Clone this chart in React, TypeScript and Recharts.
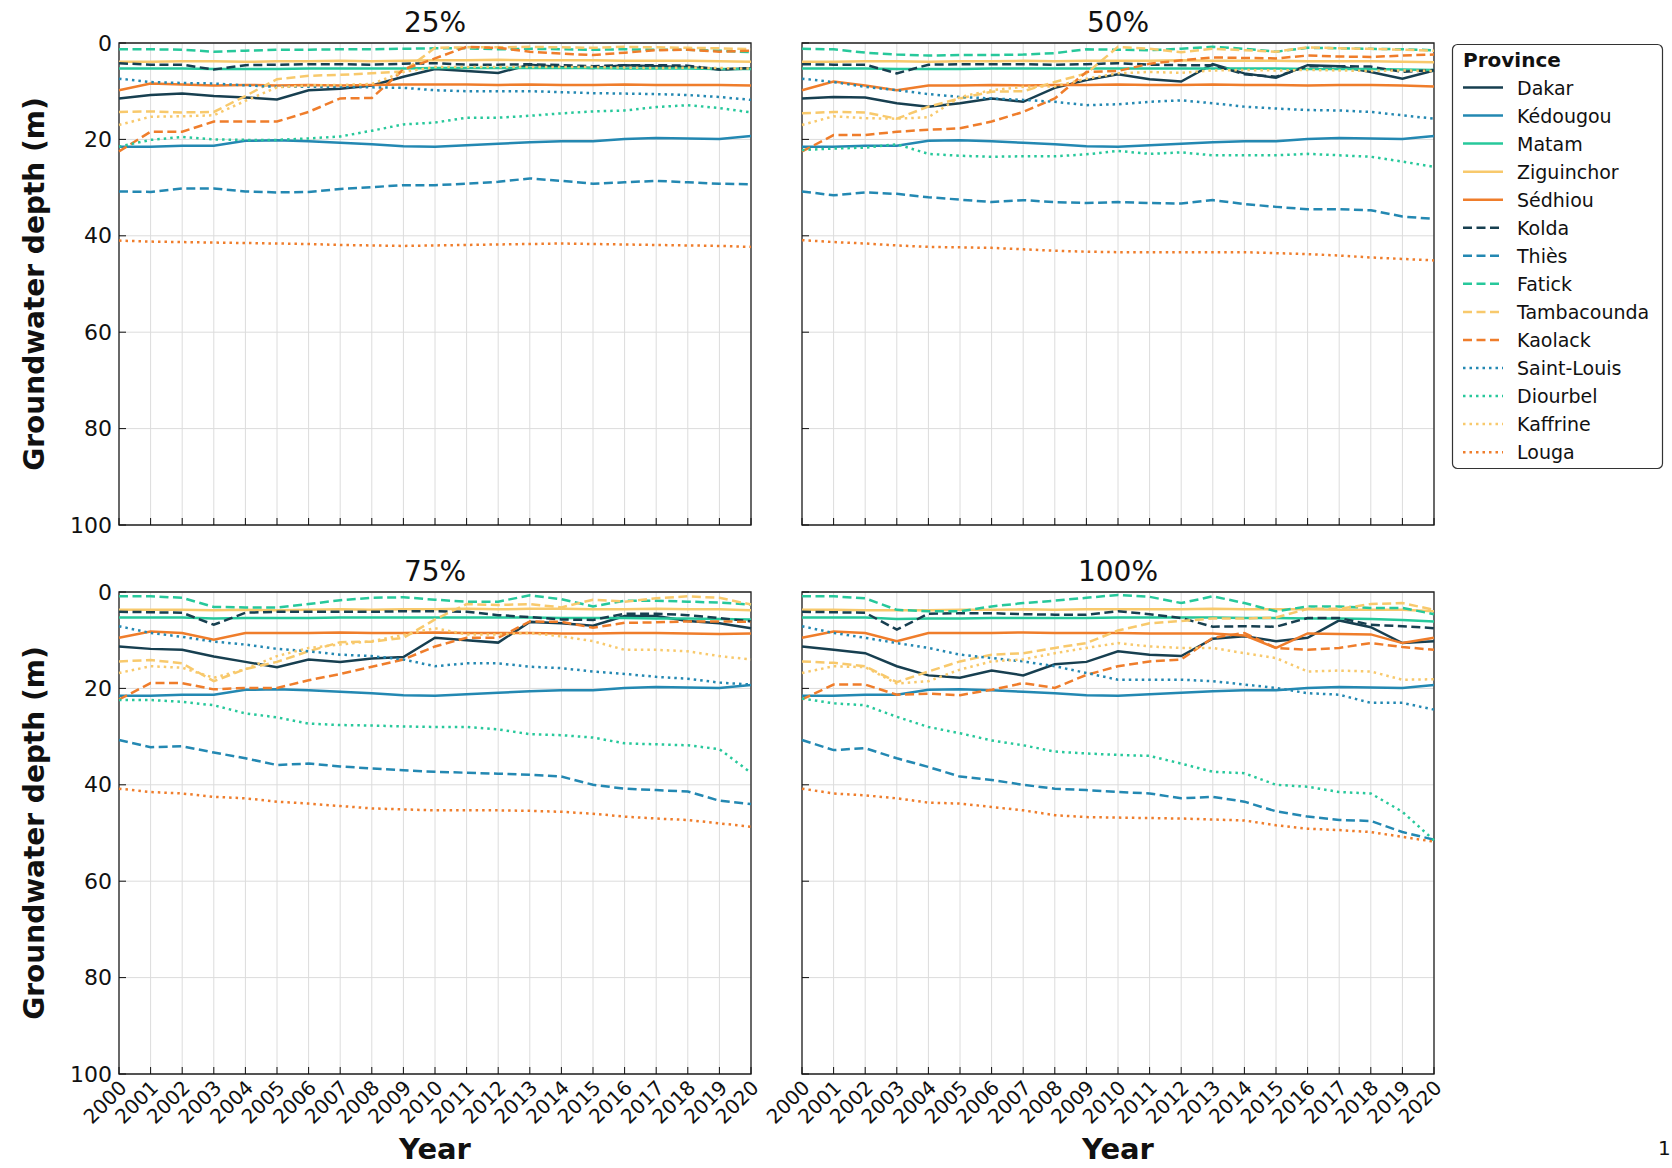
import { CartesianGrid, Line, LineChart, ReferenceArea, XAxis, YAxis } from "recharts";

const years = [
  2000, 2001, 2002, 2003, 2004, 2005, 2006, 2007, 2008, 2009, 2010,
  2011, 2012, 2013, 2014, 2015, 2016, 2017, 2018, 2019, 2020,
];
const depthTicks = [0, 20, 40, 60, 80, 100];
const panelTitles = ["25%", "50%", "75%", "100%"];

const provinces = [
  "Dakar", "Kédougou", "Matam", "Ziguinchor", "Sédhiou",
  "Kolda", "Thiès", "Fatick", "Tambacounda", "Kaolack",
  "Saint-Louis", "Diourbel", "Kaffrine", "Louga",
];

// groundwater depth (m), one row per province in the order above
const depth25 = [
  [11.5, 10.8, 10.5, 11, 11.3, 11.7, 9.8, 9.5, 8.8, 7, 5.4, 5.8, 6.2, 4.5, 5, 5.2, 4.6, 4.8, 5, 5.5, 5.3],
  [21.5, 21.5, 21.3, 21.3, 20.3, 20.2, 20.4, 20.7, 21, 21.4, 21.5, 21.2, 20.9, 20.6, 20.4, 20.4, 19.9, 19.7, 19.8, 19.9, 19.3],
  [5.3, 5.3, 5.3, 5.4, 5.4, 5.4, 5.3, 5.3, 5.3, 5.3, 5.2, 5.2, 5.2, 5.2, 5.2, 5.2, 5.3, 5.3, 5.3, 5.4, 5.4],
  [3.9, 3.9, 3.8, 3.8, 3.9, 3.8, 3.8, 3.7, 3.8, 3.7, 3.6, 3.6, 3.5, 3.6, 3.6, 3.6, 3.7, 3.7, 3.7, 3.8, 3.9],
  [9.8, 8.4, 8.6, 8.8, 8.7, 8.8, 8.7, 8.8, 8.7, 8.6, 8.6, 8.6, 8.7, 8.6, 8.7, 8.7, 8.6, 8.7, 8.7, 8.7, 8.8],
  [4.2, 4.5, 4.5, 5.5, 4.6, 4.5, 4.4, 4.4, 4.5, 4.3, 4.2, 4.5, 4.5, 4.4, 4.6, 4.8, 4.6, 4.6, 4.7, 5.5, 5.2],
  [30.8, 30.9, 30.2, 30.2, 30.8, 31, 30.9, 30.3, 29.9, 29.5, 29.5, 29.2, 28.8, 28.1, 28.6, 29.2, 28.9, 28.6, 28.9, 29.2, 29.3],
  [1.3, 1.3, 1.4, 1.8, 1.6, 1.4, 1.4, 1.3, 1.3, 1.2, 1.1, 1.1, 1.3, 1.2, 1.3, 1.4, 1.3, 1.4, 1.4, 1.6, 1.9],
  [14.3, 14.2, 14.4, 14.3, 11, 7.5, 6.8, 6.6, 6.3, 5.9, 1, 0.9, 0.9, 0.8, 0.9, 1, 0.8, 0.9, 1, 1.1, 1.3],
  [22.5, 18.4, 18.4, 16.3, 16.3, 16.3, 14.3, 11.5, 11.4, 5.5, 3.2, 0.8, 1, 1.8, 2.2, 2.5, 2, 1.5, 1.4, 1.8, 1.6],
  [7.4, 8.1, 8.3, 8.4, 8.8, 9.1, 9.1, 9.1, 9.2, 9.3, 9.8, 10, 10, 10, 10.2, 10.4, 10.5, 10.6, 10.8, 11.2, 11.8],
  [21.5, 20.1, 19.5, 20, 20.1, 20.1, 19.8, 19.4, 18.2, 16.9, 16.5, 15.5, 15.5, 15.1, 14.6, 14.2, 14, 13.3, 12.9, 13.5, 14.4],
  [17, 15.3, 15.2, 15, 12, 9.2, 8.8, 8.7, 8.5, 6, 5, 5, 5, 5, 5, 5, 5.1, 5.2, 5.1, 5.2, 5.3],
  [41, 41.2, 41.3, 41.4, 41.5, 41.6, 41.7, 41.9, 42, 42.1, 42, 41.9, 41.8, 41.7, 41.6, 41.7, 41.8, 41.9, 42, 42.1, 42.3],
];

const depth50 = [
  [11.5, 11.2, 11.3, 12.5, 13.2, 12.5, 11.5, 12.2, 9.3, 7.7, 6.5, 7.5, 8, 4.4, 6.3, 7.2, 4.6, 4.8, 6, 7.4, 5.7],
  [21.5, 21.5, 21.3, 21.3, 20.3, 20.2, 20.4, 20.7, 21, 21.4, 21.5, 21.2, 20.9, 20.6, 20.4, 20.4, 19.9, 19.7, 19.8, 19.9, 19.3],
  [5.3, 5.3, 5.3, 5.4, 5.4, 5.4, 5.3, 5.3, 5.3, 5.3, 5.3, 5.3, 5.3, 5.3, 5.3, 5.3, 5.4, 5.4, 5.4, 5.5, 5.6],
  [3.9, 3.9, 3.8, 3.8, 3.9, 3.8, 3.8, 3.7, 3.8, 3.7, 3.7, 3.7, 3.6, 3.7, 3.7, 3.7, 3.8, 3.8, 3.8, 3.9, 4],
  [9.8, 8, 8.8, 9.8, 8.8, 8.8, 8.7, 8.8, 8.7, 8.7, 8.6, 8.7, 8.7, 8.6, 8.7, 8.7, 8.8, 8.7, 8.7, 8.8, 9],
  [4.4, 4.5, 4.5, 6.3, 4.5, 4.4, 4.4, 4.4, 4.5, 4.4, 4.2, 4.5, 4.6, 4.6, 6.5, 7, 4.8, 4.8, 4.9, 6, 5.6],
  [30.8, 31.6, 31, 31.3, 32, 32.5, 33, 32.6, 33, 33.2, 33, 33.2, 33.3, 32.6, 33.4, 34, 34.5, 34.5, 34.7, 36, 36.5],
  [1.2, 1.3, 2, 2.4, 2.6, 2.5, 2.5, 2.4, 2.1, 1.3, 1.4, 1.5, 1.2, 0.8, 1.2, 1.8, 1, 1.1, 1.2, 1.3, 1.5],
  [14.6, 14.3, 14.4, 15.7, 13.2, 11.5, 10.1, 10, 8.1, 6.3, 0.8, 1.2, 1.9, 1.2, 1.5, 1.8, 0.9, 1.1, 1.2, 1.4, 1.6],
  [22.5, 19.1, 19.1, 18.4, 18, 17.7, 16.3, 14.3, 11.5, 6, 5.8, 4.3, 3.6, 3, 3.1, 3.2, 2.6, 2.8, 2.9, 2.6, 2.4],
  [7.4, 8.1, 9.1, 9.8, 10.6, 11.2, 11.5, 11.8, 12.2, 12.9, 12.7, 12.2, 11.9, 12.5, 13.2, 13.6, 13.9, 14, 14.3, 15, 15.7],
  [22.2, 21.9, 21.7, 21, 23, 23.4, 23.6, 23.5, 23.5, 23.1, 22.4, 23, 22.7, 23.3, 23.3, 23.3, 23, 23.3, 23.6, 24.6, 25.7],
  [17, 15.2, 15.6, 15.7, 15.4, 11.2, 9.8, 9.1, 9, 7.4, 6.3, 6, 6.2, 5.7, 5.6, 5.7, 5.6, 5.7, 5.8, 5.7, 5.8],
  [40.9, 41.3, 41.6, 42, 42.3, 42.4, 42.5, 42.8, 43.1, 43.3, 43.4, 43.4, 43.4, 43.4, 43.4, 43.6, 43.8, 44.1, 44.5, 44.8, 45.1],
];

const depth75 = [
  [11.3, 11.8, 12, 13.4, 14.5, 15.6, 14, 14.5, 13.8, 13.5, 9.5, 10, 10.5, 6.2, 6.5, 7, 5, 5, 6, 6.5, 7.5],
  [21.5, 21.5, 21.3, 21.3, 20.3, 20.2, 20.4, 20.7, 21, 21.4, 21.5, 21.2, 20.9, 20.6, 20.4, 20.4, 19.9, 19.7, 19.8, 19.9, 19.3],
  [5.3, 5.3, 5.3, 5.5, 5.4, 5.4, 5.4, 5.3, 5.3, 5.3, 5.3, 5.3, 5.3, 5.3, 5.4, 5.4, 5.4, 5.5, 5.5, 5.6, 5.7],
  [3.7, 3.7, 3.7, 3.8, 3.7, 3.8, 3.7, 3.6, 3.7, 3.6, 3.6, 3.5, 3.6, 3.5, 3.5, 3.6, 3.6, 3.5, 3.6, 3.6, 3.8],
  [9.5, 8.2, 8.5, 9.9, 8.5, 8.5, 8.5, 8.4, 8.5, 8.5, 8.4, 8.5, 8.5, 8.5, 8.6, 8.6, 8.5, 8.5, 8.6, 8.7, 8.6],
  [4.1, 4.2, 4.3, 6.8, 4.3, 4.1, 4.1, 4.1, 4.1, 4, 4, 4.1, 4.8, 5.2, 5.7, 5.8, 4.5, 4.5, 4.8, 5.4, 6.1],
  [30.7, 32.2, 32, 33.3, 34.5, 35.9, 35.6, 36.2, 36.6, 37, 37.3, 37.5, 37.7, 37.9, 38.3, 40, 40.8, 41.1, 41.4, 43.3, 44],
  [0.9, 0.9, 1.2, 3.1, 3.2, 3.2, 2.5, 1.7, 1.2, 1.1, 1.6, 2, 2, 0.7, 1.5, 3, 1.8, 1.8, 2, 2.2, 2.6],
  [14.4, 14.1, 14.8, 18.5, 16, 14.5, 12.3, 10.4, 10.3, 9.5, 5.7, 2.5, 2.7, 2.5, 3.2, 1.6, 2, 1.3, 0.9, 1.2, 2.6],
  [22.3, 18.9, 18.9, 20.2, 19.9, 19.9, 18.3, 17, 15.5, 14, 11.3, 9.5, 9.5, 6.1, 6.2, 7.4, 6.4, 6.3, 6.1, 6.1, 6.2],
  [7.1, 8.5, 9.3, 10.3, 10.9, 11.8, 12.3, 13, 13.3, 14, 15.4, 14.8, 14.8, 15.5, 15.8, 16.5, 17, 17.6, 18, 18.8, 19.2],
  [22.4, 22.4, 22.8, 23.5, 25.2, 26, 27.3, 27.6, 27.7, 27.9, 28, 28, 28.5, 29.5, 29.7, 30.2, 31.4, 31.6, 31.8, 32.6, 37.5],
  [16.8, 15.4, 15.7, 17.8, 16, 13.3, 11.6, 10.9, 10.2, 8.9, 7.5, 8.8, 8.8, 8.5, 9.2, 10.2, 12, 12, 12.3, 13.3, 14],
  [40.8, 41.5, 41.8, 42.5, 42.8, 43.5, 43.9, 44.4, 44.9, 45.1, 45.3, 45.3, 45.3, 45.4, 45.6, 46, 46.6, 47, 47.3, 48, 48.7],
];

const depth100 = [
  [11.3, 12, 12.7, 15.4, 17.3, 17.8, 16.3, 17.3, 15, 14.5, 12.3, 13, 13.3, 9.7, 9.2, 10.2, 9.5, 5.9, 7.3, 10.6, 10.2],
  [21.5, 21.5, 21.3, 21.3, 20.3, 20.2, 20.4, 20.7, 21, 21.4, 21.5, 21.2, 20.9, 20.6, 20.4, 20.4, 19.9, 19.7, 19.8, 19.9, 19.3],
  [5.3, 5.3, 5.3, 5.6, 5.5, 5.5, 5.4, 5.4, 5.4, 5.4, 5.3, 5.3, 5.3, 5.3, 5.4, 5.4, 5.5, 5.5, 5.6, 5.8, 6.1],
  [3.7, 3.7, 3.8, 3.8, 3.8, 3.7, 3.7, 3.6, 3.7, 3.6, 3.6, 3.6, 3.6, 3.5, 3.6, 3.6, 3.6, 3.7, 3.7, 3.7, 4],
  [9.5, 8.2, 8.5, 10.2, 8.5, 8.5, 8.5, 8.4, 8.5, 8.5, 8.5, 8.6, 8.6, 8.6, 9, 11.6, 8.6, 8.7, 8.8, 10.6, 9.5],
  [4.1, 4.2, 4.3, 7.8, 4.5, 4.4, 4.4, 4.6, 4.7, 4.7, 4, 4.6, 5.4, 7.2, 7.1, 7.2, 5.4, 5.4, 6.8, 7.1, 7.5],
  [30.7, 32.8, 32.4, 34.5, 36.3, 38.3, 39, 40, 40.8, 41.1, 41.5, 41.8, 42.8, 42.5, 43.5, 45.5, 46.6, 47.3, 47.5, 49.8, 51.4],
  [0.9, 0.9, 1.3, 3.7, 4, 4, 3, 2.3, 1.8, 1.2, 0.6, 1, 2.3, 0.9, 2.3, 4, 3, 3, 3.3, 3.3, 4.6],
  [14.4, 14.7, 15.4, 18.7, 16.5, 14.4, 13, 12.7, 11.6, 10.6, 8, 6.5, 6, 5.5, 5.5, 5.3, 3.5, 3.5, 2.5, 2.3, 3.7],
  [22.3, 19.2, 19.2, 21.3, 21.1, 21.4, 20.3, 18.9, 19.9, 17.2, 15.4, 14.4, 14, 9.5, 8.5, 11.6, 12, 11.6, 10.6, 11.4, 12],
  [7.1, 8.5, 9.5, 10.6, 11.6, 13, 13.7, 14.4, 15.4, 16.8, 18.2, 18.2, 18.2, 18.5, 19.2, 19.9, 21, 21.3, 23, 23, 24.4],
  [22.1, 23.1, 23.5, 25.9, 28, 29.3, 30.8, 31.8, 33.1, 33.5, 33.8, 34, 35.6, 37.3, 37.6, 40, 40.4, 41.5, 41.8, 45.6, 51.5],
  [16.8, 15.4, 15.6, 19, 18.5, 16.1, 14.4, 14, 12.7, 11.6, 10.6, 11.3, 11.6, 11.6, 12.7, 13.7, 16.5, 16.3, 16.5, 18.2, 18.1],
  [40.8, 41.8, 42.2, 42.8, 43.7, 43.9, 44.6, 45.3, 46.3, 46.7, 46.8, 46.9, 47, 47.2, 47.4, 48.4, 49.1, 49.4, 49.8, 50.8, 51.8],
];

const NAVY = "#173f50";
const BLUE = "#2388b2";
const TEAL = "#27c89b";
const YELLOW = "#f8c96c";
const ORANGE = "#ef7d2b";

const lineColors = [
  NAVY, BLUE, TEAL, YELLOW, ORANGE,
  NAVY, BLUE, TEAL, YELLOW, ORANGE,
  BLUE, TEAL, YELLOW, ORANGE,
];
const lineDash = (i: number) => (i < 5 ? undefined : i < 10 ? "9 4.5" : "2.5 4");

const FONT = "'DejaVu Sans', sans-serif";

const toRows = (series: number[][]) =>
  years.map((year, i) => {
    const row: Record<string, number> = { year };
    provinces.forEach((p, k) => (row[p] = series[k][i]));
    return row;
  });

function YearTick({ x, y, payload, showLabel }: any) {
  const ax = x + 9;
  const ay = y + 15;
  return (
    <g>
      <line x1={x} x2={x} y1={y} y2={y - 7} stroke="#111" strokeWidth={1} />
      {showLabel && (
        <text
          x={ax}
          y={ay}
          textAnchor="end"
          fontSize={20}
          fontFamily={FONT}
          fill="#111"
          transform={`rotate(-45 ${ax} ${ay})`}
        >
          {payload.value}
        </text>
      )}
    </g>
  );
}

function DepthTick({ x, y, payload, showLabel }: any) {
  return (
    <g>
      <line x1={x} x2={x + 7} y1={y} y2={y} stroke="#111" strokeWidth={1} />
      {showLabel && (
        <text
          x={x - 7}
          y={y}
          textAnchor="end"
          dominantBaseline="central"
          fontSize={22}
          fontFamily={FONT}
          fill="#111"
        >
          {payload.value}
        </text>
      )}
    </g>
  );
}

const PLOT_W = 632;
const PLOT_H = 482;
const Y_W = 60;
const M_TOP = 20;
const M_RIGHT = 24;

function Panel({ series, left, top, showY, showX }: { series: number[][]; left: number; top: number; showY: boolean; showX: boolean }) {
  const data = toRows(series);
  return (
    <div style={{ position: "absolute", left: left - Y_W, top: top - M_TOP }}>
      <LineChart
        width={PLOT_W + Y_W + M_RIGHT}
        height={PLOT_H + M_TOP + 64}
        data={data}
        margin={{ top: M_TOP, right: M_RIGHT, bottom: 0, left: 0 }}
      >
        <CartesianGrid stroke="#dcdcdc" strokeWidth={1} />
        <XAxis
          dataKey="year"
          type="number"
          domain={[2000, 2020]}
          ticks={years}
          interval={0}
          height={64}
          tickSize={0}
          tickMargin={0}
          axisLine={false}
          tick={<YearTick showLabel={showX} />}
        />
        <YAxis
          type="number"
          reversed
          domain={[0, 100]}
          ticks={depthTicks}
          interval={0}
          width={Y_W}
          tickSize={0}
          tickMargin={0}
          axisLine={false}
          tick={<DepthTick showLabel={showY} />}
        />
        {provinces.map((p, i) => (
          <Line
            key={p}
            dataKey={p}
            type="linear"
            stroke={lineColors[i]}
            strokeWidth={2.5}
            strokeDasharray={lineDash(i)}
            dot={false}
            activeDot={false}
            isAnimationActive={false}
          />
        ))}
        <ReferenceArea x1={2000} x2={2020} y1={0} y2={100} fill="none" stroke="#222" strokeWidth={1.3} fillOpacity={0} />
      </LineChart>
    </div>
  );
}

const P_LEFT = [119, 802];
const P_TOP = [43, 592];

export default function App() {
  const panels = [depth25, depth50, depth75, depth100];
  return (
    <div style={{ position: "absolute", left: 0, top: 0, width: 1672, height: 1168, background: "#fff", overflow: "hidden", fontFamily: FONT }}>
      {panels.map((s, i) => (
        <Panel
          key={i}
          series={s}
          left={P_LEFT[i % 2]}
          top={P_TOP[Math.floor(i / 2)]}
          showY={i % 2 === 0}
          showX={i >= 2}
        />
      ))}
      <svg width={1672} height={1168} style={{ position: "absolute", left: 0, top: 0, pointerEvents: "none" }}>
        {panelTitles.map((t, i) => (
          <text
            key={t}
            x={P_LEFT[i % 2] + PLOT_W / 2}
            y={P_TOP[Math.floor(i / 2)] - 11}
            textAnchor="middle"
            fontSize={28}
            fontFamily={FONT}
            fill="#111"
          >
            {t}
          </text>
        ))}
        {P_TOP.map((t) => (
          <text
            key={t}
            x={44}
            y={t + PLOT_H / 2}
            textAnchor="middle"
            fontSize={28}
            fontWeight="bold"
            fontFamily={FONT}
            fill="#111"
            transform={`rotate(-90 44 ${t + PLOT_H / 2})`}
          >
            Groundwater depth (m)
          </text>
        ))}
        {P_LEFT.map((l) => (
          <text key={l} x={l + PLOT_W / 2} y={1159} textAnchor="middle" fontSize={29} fontWeight="bold" fontFamily={FONT} fill="#111">
            Year
          </text>
        ))}
        <text x={1658} y={1155} fontSize={20} fontFamily={FONT} fill="#111">1</text>

        <rect x={1452.5} y={44.5} width={210} height={424} rx={5} fill="#fff" stroke="#333" strokeWidth={1.2} />
        <text x={1463} y={67} fontSize={20} fontWeight="bold" fontFamily={FONT} fill="#111">
          Province
        </text>
        {provinces.map((p, i) => {
          const cy = 87.5 + i * 28.05;
          return (
            <g key={p}>
              <line x1={1463} x2={1503} y1={cy} y2={cy} stroke={lineColors[i]} strokeWidth={2.5} strokeDasharray={lineDash(i)} />
              <text x={1517} y={cy + 7} fontSize={19} fontFamily={FONT} fill="#111">
                {p}
              </text>
            </g>
          );
        })}
      </svg>
    </div>
  );
}
